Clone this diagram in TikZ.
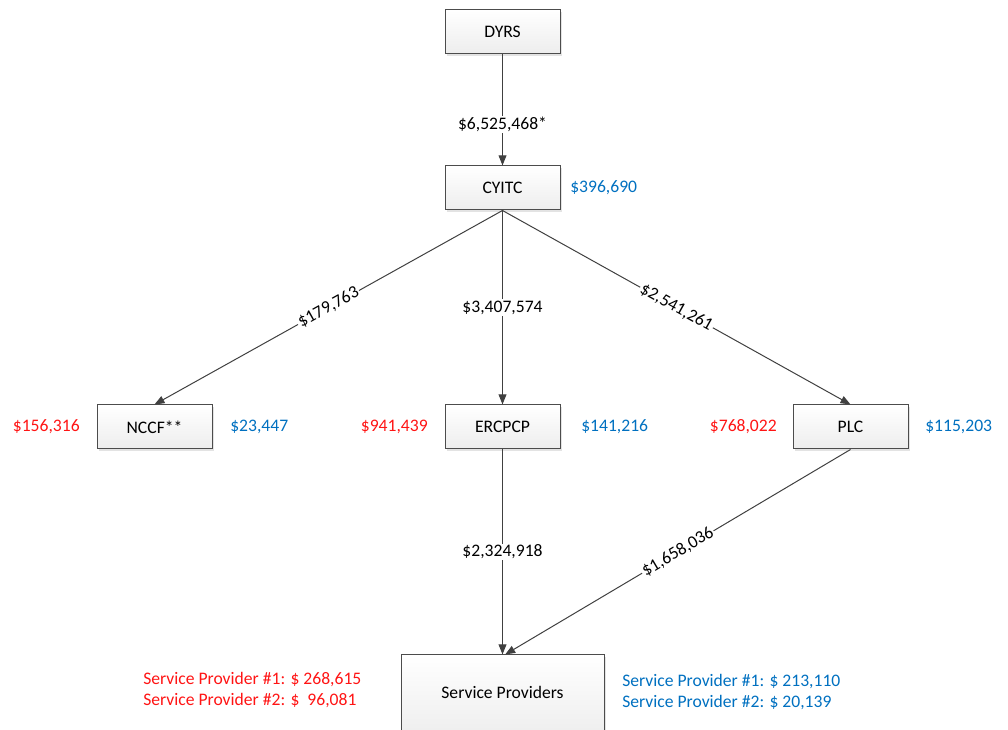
\documentclass[tikz,border=0pt]{standalone}
\usepackage{fontspec}
\setmainfont{Carlito}
\usetikzlibrary{arrows.meta,shadows}

\definecolor{costred}{RGB}{255,20,20}
\definecolor{costblue}{RGB}{0,112,192}

\tikzset{
  orgbox/.style={draw=black!70, line width=0.75pt, top color=white, bottom color=black!7,
    minimum width=86.25pt, minimum height=33pt, inner sep=0pt,
    drop shadow={shadow xshift=1.2pt, shadow yshift=-1.2pt, fill=black!18, opacity=0.6}},
  flow/.style={draw=black!75, line width=0.75pt, -{Triangle[length=7.5pt,width=5.8pt]}},
  amount/.style={fill=white, inner sep=1pt, text=black},
  redamount/.style={text=costred, inner sep=0pt},
  blueamount/.style={text=costblue, inner sep=0pt}
}

\begin{document}
\begin{tikzpicture}[x=0.75pt,y=0.75pt,font=\fontsize{13.2}{15.75}\selectfont]
	\useasboundingbox (0,0) rectangle (1008,-730);

	% Boxes
	\node [orgbox] (dyrs) at (502.5,-32) {DYRS};
	\node [orgbox] (cyitc) at (502.5,-188) {CYITC};
	\node [orgbox] (nccf) at (154.5,-427) {NCCF**};
	\node [orgbox] (ercpcp) at (502.5,-427) {ERCPCP};
	\node [orgbox] (plc) at (850.5,-427) {PLC};
	\node [orgbox, minimum width=152.25pt, minimum height=63pt] (sp) at (502.5,-697) {};
	\node (sptext) at (502.5,-692) {Service Providers};

	% Connections
	\draw [flow] (dyrs.south) -- node [amount, pos=0.63] (a1) {\$6,525,468*} (cyitc.north);
	\draw [flow] (cyitc.south) -- node [amount, sloped] (a2) {\$179,763} (nccf.north);
	\draw [flow] (cyitc.south) -- node [amount] (a3) {\$3,407,574} (ercpcp.north);
	\draw [flow] (cyitc.south) -- node [amount, sloped] (a4) {\$2,541,261} (plc.north);
	\draw [flow] (ercpcp.south) -- node [amount] (a5) {\$2,324,918} (sp.north);
	\draw [flow] (plc.south) -- node [amount, sloped] (a6) {\$1,658,036} ([xshift=2pt]sp.north);

	% Side amounts
	\node [blueamount, anchor=west] (cyitcb) at (570,-188) {\$396,690};
	\node [redamount, anchor=east] (nccfr) at (80,-427) {\$156,316};
	\node [blueamount, anchor=west] (nccfb) at (230,-427) {\$23,447};
	\node [redamount, anchor=east] (ercpcpr) at (428,-427) {\$941,439};
	\node [blueamount, anchor=west] (ercpcpb) at (581,-427) {\$141,216};
	\node [redamount, anchor=east] (plcr) at (777,-427) {\$768,022};
	\node [blueamount, anchor=west] (plcb) at (925,-427) {\$115,203};
	\node [redamount, anchor=west, align=left] (spr) at (143,-690.5) {Service Provider \#1: \$ 268,615\\Service Provider \#2: \$~~96,081};
	\node [blueamount, anchor=west, align=left] (spb) at (622,-692.5) {Service Provider \#1: \$ 213,110\\Service Provider \#2: \$ 20,139};
\end{tikzpicture}
\end{document}
